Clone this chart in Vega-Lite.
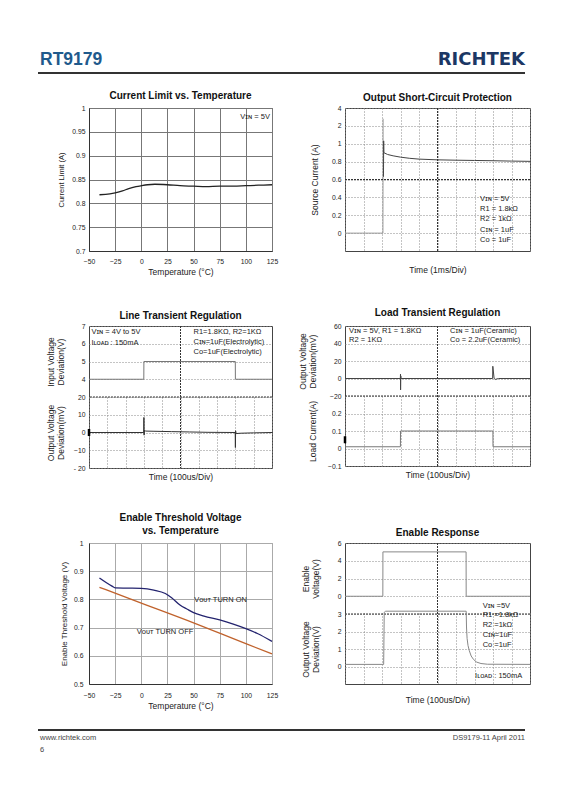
{
 "$schema": "https://vega.github.io/schema/vega-lite/v6.json",
 "background": "white",
 "padding": {"left": 37, "top": 13, "right": 5, "bottom": 5},
 "config": {
  "font": "Liberation Sans",
  "title": {"font": "Liberation Sans", "fontSize": 10, "fontWeight": "bold", "color": "#111", "frame": "group", "anchor": "middle"},
  "axis": {"labelFont": "Liberation Sans", "titleFont": "Liberation Sans", "labelFontSize": 6.8, "titleFontSize": 8.5, "titleFontWeight": "normal", "labelColor": "#222", "titleColor": "#222", "ticks": false, "labelOverlap": false, "labelFlush": false, "gridColor": "#999", "tickCount": 50},
  "text": {"font": "Liberation Sans", "fontSize": 7.5, "color": "#222"}
 },
 "resolve": {"scale": {"color": "independent"}},
 "datasets": {
  "cl": [{"temp": -40, "a": 0.818}, {"temp": -30, "a": 0.82}, {"temp": -25, "a": 0.822}, {"temp": -18, "a": 0.826}, {"temp": -12, "a": 0.831}, {"temp": -5, "a": 0.835}, {"temp": 0, "a": 0.837}, {"temp": 6, "a": 0.839}, {"temp": 13, "a": 0.84}, {"temp": 25, "a": 0.839}, {"temp": 37, "a": 0.837}, {"temp": 50, "a": 0.836}, {"temp": 62, "a": 0.835}, {"temp": 75, "a": 0.836}, {"temp": 88, "a": 0.836}, {"temp": 100, "a": 0.837}, {"temp": 112, "a": 0.838}, {"temp": 125, "a": 0.839}],
  "sc": [{"t": 0, "i": 0, "seg": "pre"}, {"t": 2.05, "i": 0, "seg": "pre"}, {"t": 2.06, "i": 2.8, "seg": "pre"}, {"t": 2.08, "i": 0.63, "seg": "post"}, {"t": 2.09, "i": 1.16, "seg": "post"}, {"t": 2.1, "i": 0.9, "seg": "post"}, {"t": 2.3, "i": 0.88, "seg": "post"}, {"t": 2.6, "i": 0.865, "seg": "post"}, {"t": 3.0, "i": 0.85, "seg": "post"}, {"t": 3.5, "i": 0.837, "seg": "post"}, {"t": 4, "i": 0.828, "seg": "post"}, {"t": 5, "i": 0.82, "seg": "post"}, {"t": 6, "i": 0.816, "seg": "post"}, {"t": 7, "i": 0.813, "seg": "post"}, {"t": 8, "i": 0.81, "seg": "post"}, {"t": 9, "i": 0.806, "seg": "post"}, {"t": 10, "i": 0.803, "seg": "post"}],
  "lti": [{"t": 0, "v": 4}, {"t": 299.5, "v": 4}, {"t": 300, "v": 5}, {"t": 799.5, "v": 5}, {"t": 800, "v": 4}, {"t": 1000, "v": 4}],
  "lto": [{"t": 0, "v": 0}, {"t": 299, "v": 0}, {"t": 300, "v": 8.5}, {"t": 301, "v": -1.5}, {"t": 303, "v": 1.2}, {"t": 310, "v": 0.8}, {"t": 350, "v": 0.7}, {"t": 450, "v": 0.5}, {"t": 550, "v": 0.3}, {"t": 650, "v": 0.1}, {"t": 799, "v": 0}, {"t": 800, "v": -8.5}, {"t": 801, "v": 1}, {"t": 804, "v": -0.6}, {"t": 830, "v": -0.4}, {"t": 900, "v": -0.2}, {"t": 1000, "v": 0}],
  "ldv": [{"t": 0, "v": 0}, {"t": 299, "v": 0}, {"t": 300, "v": 5}, {"t": 300.5, "v": -13}, {"t": 301.5, "v": 3}, {"t": 303, "v": 0}, {"t": 798, "v": 0}, {"t": 799, "v": 14}, {"t": 806, "v": 0}, {"t": 812, "v": -1}, {"t": 830, "v": 0}, {"t": 1000, "v": 0}],
  "ldi": [{"t": 0, "v": 0.01}, {"t": 299.5, "v": 0.01}, {"t": 300, "v": 0.1}, {"t": 799.5, "v": 0.1}, {"t": 800, "v": 0.01}, {"t": 1000, "v": 0.01}],
  "ere": [{"t": 0, "v": 0}, {"t": 204.5, "v": 0}, {"t": 205, "v": 5}, {"t": 654.5, "v": 5}, {"t": 655, "v": 0}, {"t": 1000, "v": 0}],
  "ero": [{"t": 0, "v": 0.12}, {"t": 209, "v": 0.12}, {"t": 212, "v": 3.1}, {"t": 220, "v": 3.16}, {"t": 655, "v": 3.16}, {"t": 657, "v": 2.2}, {"t": 660, "v": 1.6}, {"t": 665, "v": 1.2}, {"t": 672, "v": 0.9}, {"t": 682, "v": 0.6}, {"t": 695, "v": 0.4}, {"t": 712, "v": 0.25}, {"t": 735, "v": 0.17}, {"t": 770, "v": 0.13}, {"t": 1000, "v": 0.12}],
  "et": [{"temp": -40, "v": 0.876, "s": "on"}, {"temp": -28, "v": 0.847, "s": "on"}, {"temp": -25, "v": 0.841, "s": "on"}, {"temp": -14, "v": 0.84, "s": "on"}, {"temp": 0, "v": 0.839, "s": "on"}, {"temp": 12, "v": 0.833, "s": "on"}, {"temp": 23, "v": 0.821, "s": "on"}, {"temp": 29, "v": 0.806, "s": "on"}, {"temp": 37, "v": 0.78, "s": "on"}, {"temp": 44, "v": 0.765, "s": "on"}, {"temp": 50, "v": 0.753, "s": "on"}, {"temp": 60, "v": 0.741, "s": "on"}, {"temp": 75, "v": 0.727, "s": "on"}, {"temp": 88, "v": 0.712, "s": "on"}, {"temp": 100, "v": 0.696, "s": "on"}, {"temp": 111, "v": 0.679, "s": "on"}, {"temp": 125, "v": 0.651, "s": "on"},
         {"temp": -40, "v": 0.843, "s": "off"}, {"temp": 0, "v": 0.787, "s": "off"}, {"temp": 50, "v": 0.717, "s": "off"}, {"temp": 100, "v": 0.643, "s": "off"}, {"temp": 125, "v": 0.607, "s": "off"}]
 },
 "concat": [
  {
   "width": 183, "height": 20,
   "view": {"stroke": null},
   "layer": [
    {"data": {"values": [{}]},
     "mark": {"type": "rule", "color": "#333", "strokeWidth": 2},
     "encoding": {"x": {"datum": 0, "type": "quantitative", "scale": {"domain": [0, 1], "range": [-51, 256]}, "axis": null}, "x2": {"datum": 1}, "y": {"datum": 0, "type": "quantitative", "scale": {"domain": [0, 1], "range": [60, 40]}, "axis": null}}},
    {"data": {"values": [{"label": "RT9179"}]},
     "mark": {"type": "text", "align": "left", "baseline": "alphabetic", "font": "Liberation Sans", "fontSize": 17.5, "fontWeight": "bold", "color": "#1f5a8c", "dx": 2},
     "encoding": {"x": {"datum": 0, "type": "quantitative"}, "y": {"datum": 0.4, "type": "quantitative"}, "text": {"field": "label"}}}
   ]
  },
  {
   "width": 185, "height": 20,
   "view": {"stroke": null},
   "layer": [
    {"data": {"values": [{}]},
     "mark": {"type": "rule", "color": "#333", "strokeWidth": 2},
     "encoding": {"x": {"datum": 0, "type": "quantitative", "scale": {"domain": [0, 1], "range": [0, 180]}, "axis": null}, "x2": {"datum": 1}, "y": {"datum": 0, "type": "quantitative", "scale": {"domain": [0, 1], "range": [60, 40]}, "axis": null}}},
    {"data": {"values": [{"label": "RICHTEK"}]},
     "mark": {"type": "text", "align": "right", "baseline": "alphabetic", "font": "DejaVu Sans", "fontSize": 18, "fontWeight": "bold", "color": "#1c3764"},
     "encoding": {"x": {"datum": 1, "type": "quantitative"}, "y": {"datum": 0.4, "type": "quantitative"}, "text": {"field": "label"}}}
   ]
  },
  {
   "title": {"text": "Current Limit vs. Temperature", "offset": 4},
   "width": 183, "height": 143,
   "view": {"stroke": "#666"},
   "layer": [
    {"data": {"name": "cl"},
     "mark": {"type": "line", "color": "#222", "strokeWidth": 1.3, "interpolate": "monotone"},
     "encoding": {
      "x": {"field": "temp", "type": "quantitative", "scale": {"domain": [-50, 125], "nice": false}, "axis": {"values": [-50, -25, 0, 25, 50, 75, 100, 125], "format": "~g", "grid": true, "gridColor": "#777", "title": "Temperature (°C)", "titlePadding": 3, "labelPadding": 7, "domainColor": "#333"}},
      "y": {"field": "a", "type": "quantitative", "scale": {"domain": [0.7, 1], "nice": false, "zero": false}, "axis": {"values": [0.7, 0.75, 0.8, 0.85, 0.9, 0.95, 1], "format": "~g", "grid": true, "gridColor": "#777", "title": "Current Limit (A)", "titleFontSize": 7.5, "titlePadding": 6, "labelPadding": 4, "domainColor": "#333"}}
     }},
    {"data": {"values": [{"note": "Vɪɴ = 5V"}]},
     "mark": {"type": "text", "align": "right", "baseline": "middle"},
     "encoding": {"x": {"datum": 123, "type": "quantitative"}, "y": {"datum": 0.981, "type": "quantitative"}, "text": {"field": "note"}}}
   ]
  },
  {
   "title": {"text": "Output Short-Circuit Protection", "offset": 2},
   "width": 185, "height": 143,
   "view": {"stroke": "#444"},
   "layer": [
    {"data": {"name": "sc"},
     "mark": {"type": "line", "strokeWidth": 1},
     "encoding": {
      "x": {"field": "t", "type": "quantitative", "scale": {"domain": [0, 10], "nice": false}, "axis": {"values": [0, 1, 2, 3, 4, 5, 6, 7, 8, 9, 10], "labels": false, "domain": false, "grid": true, "gridDash": [1, 2], "gridColor": "#888", "title": "Time (1ms/Div)", "titlePadding": 14}},
      "y": {"field": "i", "type": "quantitative", "scale": {"domain": [-0.2, 1, 2, 4], "range": [143, 35.75, 17.875, 0], "nice": false, "zero": false}, "axis": {"values": [0, 0.2, 0.4, 0.6, 0.8, 1, 2, 4], "format": "~g", "grid": true, "gridDash": [1, 2], "gridColor": "#888", "domain": false, "title": "Source Current (A)", "titlePadding": 12, "labelPadding": 4}},
      "color": {"field": "seg", "type": "nominal", "scale": {"domain": ["pre", "post"], "range": ["#9a9a9a", "#444"]}, "legend": null}
     }},
    {"data": {"values": [{}]}, "mark": {"type": "rule", "color": "#333", "strokeDash": [2, 1]}, "encoding": {"x": {"datum": 5, "type": "quantitative"}}},
    {"data": {"values": [{}]}, "mark": {"type": "rule", "color": "#333", "strokeDash": [2, 1]}, "encoding": {"y": {"datum": 0.6, "type": "quantitative"}}},
    {"data": {"values": [{"note": "Vɪɴ = 5V\nR1 = 1.8kΩ\nR2 = 1kΩ\nCɪɴ = 1uF\nCᴏ = 1uF"}]},
     "mark": {"type": "text", "align": "left", "baseline": "top", "lineBreak": "\n", "lineHeight": 10.3},
     "encoding": {"x": {"datum": 7.3, "type": "quantitative"}, "y": {"datum": 0.43, "type": "quantitative"}, "text": {"field": "note"}}}
   ]
  },
  {
   "title": {"text": "Line Transient Regulation", "offset": 2},
   "width": 183, "height": 142,
   "view": {"stroke": "#444"},
   "resolve": {"scale": {"y": "independent"}, "axis": {"y": "independent"}},
   "layer": [
    {"layer": [
      {"data": {"name": "lti"},
       "mark": {"type": "line", "color": "#777", "strokeWidth": 1},
       "encoding": {
        "x": {"field": "t", "type": "quantitative", "scale": {"domain": [0, 1000], "nice": false}, "axis": {"values": [0, 100, 200, 300, 400, 500, 600, 700, 800, 900, 1000], "labels": false, "domain": false, "grid": true, "gridDash": [1, 2], "gridColor": "#888", "title": "Time (100us/Div)", "titlePadding": 4}},
        "y": {"field": "v", "type": "quantitative", "scale": {"domain": [3, 7], "range": [71, 0], "nice": false, "zero": false}, "axis": {"orient": "left", "values": [4, 5, 6, 7], "format": "~g", "grid": true, "gridDash": [1, 2], "gridColor": "#888", "domain": false, "title": ["Input Voltage", "Deviation(V)"], "titleLineHeight": 10, "titlePadding": 6, "labelPadding": 4, "minExtent": 18, "maxExtent": 18}}
       }},
      {"data": {"values": [{}]}, "mark": {"type": "rule", "color": "#333", "strokeDash": [2, 1]}, "encoding": {"x": {"datum": 500, "type": "quantitative"}}},
      {"data": {"values": [{}]}, "mark": {"type": "rule", "color": "#333", "strokeDash": [2, 1]}, "encoding": {"y": {"datum": 3, "type": "quantitative"}}},
      {"data": {"values": [{"note": "Vɪɴ = 4V to 5V\nIʟᴏᴀᴅ : 150mA"}]},
       "mark": {"type": "text", "align": "left", "baseline": "top", "lineBreak": "\n", "lineHeight": 11},
       "encoding": {"x": {"datum": 13, "type": "quantitative"}, "y": {"datum": 6.88, "type": "quantitative"}, "text": {"field": "note"}}},
      {"data": {"values": [{"note": "R1=1.8KΩ, R2=1KΩ\nCɪɴ=1uF(Electrolytic)\nCᴏ=1uF(Electrolytic)"}]},
       "mark": {"type": "text", "align": "left", "baseline": "top", "lineBreak": "\n", "lineHeight": 9.8},
       "encoding": {"x": {"datum": 571, "type": "quantitative"}, "y": {"datum": 6.88, "type": "quantitative"}, "text": {"field": "note"}}}
    ]},
    {"layer": [
      {"data": {"name": "lto"},
       "mark": {"type": "line", "color": "#333", "strokeWidth": 1},
       "encoding": {
        "x": {"field": "t", "type": "quantitative", "scale": {"domain": [0, 1000], "nice": false}, "axis": {"values": [0, 100, 200, 300, 400, 500, 600, 700, 800, 900, 1000], "labels": false, "domain": false, "grid": true, "gridDash": [1, 2], "gridColor": "#888", "title": "Time (100us/Div)", "titlePadding": 4}},
        "y": {"field": "v", "type": "quantitative", "scale": {"domain": [-20, 20], "range": [142, 71], "nice": false, "zero": false}, "axis": {"orient": "left", "values": [-20, -10, 0, 10, 20], "format": "~g", "labelExpr": "datum.value == -20 ? '- 20' : datum.label", "grid": true, "gridDash": [1, 2], "gridColor": "#888", "domain": false, "title": ["Output Voltage", "Deviation(mV)"], "titleLineHeight": 10, "titlePadding": 6, "labelPadding": 4, "minExtent": 18, "maxExtent": 18}}
       }},
      {"data": {"values": [{}]}, "mark": {"type": "rule", "color": "#000", "strokeWidth": 2.5}, "encoding": {"x": {"datum": 0, "type": "quantitative"}, "y": {"datum": -2, "type": "quantitative"}, "y2": {"datum": 2}}}
    ]}
   ]
  },
  {
   "title": {"text": "Load Transient Regulation", "offset": 5},
   "width": 185, "height": 140,
   "view": {"stroke": "#444"},
   "resolve": {"scale": {"y": "independent"}, "axis": {"y": "independent"}},
   "layer": [
    {"layer": [
      {"data": {"name": "ldv"},
       "mark": {"type": "line", "color": "#444", "strokeWidth": 1},
       "encoding": {
        "x": {"field": "t", "type": "quantitative", "scale": {"domain": [0, 1000], "nice": false}, "axis": {"values": [0, 100, 200, 300, 400, 500, 600, 700, 800, 900, 1000], "labels": false, "domain": false, "grid": true, "gridDash": [1, 2], "gridColor": "#888", "title": "Time (100us/Div)", "titlePadding": 4}},
        "y": {"field": "v", "type": "quantitative", "scale": {"domain": [-20, 60], "range": [70, 0], "nice": false, "zero": false}, "axis": {"orient": "left", "values": [-20, 0, 20, 40, 60], "format": "~g", "grid": true, "gridDash": [1, 2], "gridColor": "#888", "domain": false, "title": ["Output Voltage", "Deviation(mV)"], "titleLineHeight": 10, "titlePadding": 12, "labelPadding": 4, "minExtent": 16, "maxExtent": 16}}
       }},
      {"data": {"values": [{}]}, "mark": {"type": "rule", "color": "#333", "strokeDash": [2, 1]}, "encoding": {"x": {"datum": 500, "type": "quantitative"}}},
      {"data": {"values": [{}]}, "mark": {"type": "rule", "color": "#333", "strokeDash": [2, 1]}, "encoding": {"y": {"datum": -20, "type": "quantitative"}}},
      {"data": {"values": [{"note": "Vɪɴ = 5V, R1 = 1.8KΩ\nR2 = 1KΩ"}]},
       "mark": {"type": "text", "align": "left", "baseline": "top", "lineBreak": "\n", "lineHeight": 9.5},
       "encoding": {"x": {"datum": 22, "type": "quantitative"}, "y": {"datum": 59, "type": "quantitative"}, "text": {"field": "note"}}},
      {"data": {"values": [{"note": "Cɪɴ = 1uF(Ceramic)\nCᴏ = 2.2uF(Ceramic)"}]},
       "mark": {"type": "text", "align": "left", "baseline": "top", "lineBreak": "\n", "lineHeight": 9.5},
       "encoding": {"x": {"datum": 568, "type": "quantitative"}, "y": {"datum": 59, "type": "quantitative"}, "text": {"field": "note"}}}
    ]},
    {"layer": [
      {"data": {"name": "ldi"},
       "mark": {"type": "line", "color": "#777", "strokeWidth": 1},
       "encoding": {
        "x": {"field": "t", "type": "quantitative", "scale": {"domain": [0, 1000], "nice": false}, "axis": {"values": [0, 100, 200, 300, 400, 500, 600, 700, 800, 900, 1000], "labels": false, "domain": false, "grid": true, "gridDash": [1, 2], "gridColor": "#888", "title": "Time (100us/Div)", "titlePadding": 4}},
        "y": {"field": "v", "type": "quantitative", "scale": {"domain": [-0.1, 0.3], "range": [140, 70], "nice": false, "zero": false}, "axis": {"orient": "left", "values": [-0.1, 0, 0.1, 0.2], "format": "~g", "grid": true, "gridDash": [1, 2], "gridColor": "#888", "domain": false, "title": "Load Current(A)", "titlePadding": 12, "labelPadding": 4, "minExtent": 16, "maxExtent": 16}}
       }},
      {"data": {"values": [{}]}, "mark": {"type": "rule", "color": "#000", "strokeWidth": 2.5}, "encoding": {"x": {"datum": 0, "type": "quantitative"}, "y": {"datum": 0.03, "type": "quantitative"}, "y2": {"datum": 0.07}}}
    ]}
   ]
  },
  {
   "title": {"text": ["Enable Threshold Voltage", "vs. Temperature"], "offset": 4, "lineHeight": 13},
   "width": 183, "height": 141,
   "view": {"stroke": "#999"},
   "layer": [
    {"data": {"name": "et"},
     "mark": {"type": "line", "strokeWidth": 1.3, "interpolate": "monotone"},
     "encoding": {
      "x": {"field": "temp", "type": "quantitative", "scale": {"domain": [-50, 125], "nice": false}, "axis": {"values": [-50, -25, 0, 25, 50, 75, 100, 125], "format": "~g", "grid": true, "gridColor": "#aaa", "title": "Temperature (°C)", "titlePadding": 3, "labelPadding": 8, "domainColor": "#333"}},
      "y": {"field": "v", "type": "quantitative", "scale": {"domain": [0.5, 1], "nice": false, "zero": false}, "axis": {"values": [0.5, 0.6, 0.7, 0.8, 0.9, 1], "format": "~g", "grid": true, "gridColor": "#aaa", "title": "Enable Threshold Voltage (V)", "titleFontSize": 8, "titlePadding": 5, "labelPadding": 6, "domainColor": "#333"}},
      "color": {"field": "s", "type": "nominal", "scale": {"domain": ["on", "off"], "range": ["#23236e", "#c0622c"]}, "legend": null}
     }},
    {"data": {"values": [{"note": "Vᴏᴜᴛ TURN ON"}]},
     "mark": {"type": "text", "align": "left", "baseline": "middle"},
     "encoding": {"x": {"datum": 50.6, "type": "quantitative"}, "y": {"datum": 0.797, "type": "quantitative"}, "text": {"field": "note"}}},
    {"data": {"values": [{"note": "Vᴏᴜᴛ TURN OFF"}]},
     "mark": {"type": "text", "align": "left", "baseline": "middle"},
     "encoding": {"x": {"datum": -4.3, "type": "quantitative"}, "y": {"datum": 0.685, "type": "quantitative"}, "text": {"field": "note"}}}
   ]
  },
  {
   "title": {"text": "Enable Response", "offset": 2},
   "width": 185, "height": 141,
   "view": {"stroke": "#444"},
   "resolve": {"scale": {"y": "independent"}, "axis": {"y": "independent"}},
   "layer": [
    {"layer": [
      {"data": {"name": "ere"},
       "mark": {"type": "line", "color": "#888", "strokeWidth": 1},
       "encoding": {
        "x": {"field": "t", "type": "quantitative", "scale": {"domain": [0, 1000], "nice": false}, "axis": {"values": [0, 100, 200, 300, 400, 500, 600, 700, 800, 900, 1000], "labels": false, "domain": false, "grid": true, "gridDash": [1, 2], "gridColor": "#888", "title": "Time (100us/Div)", "titlePadding": 11}},
        "y": {"field": "v", "type": "quantitative", "scale": {"domain": [-2, 6], "range": [71, 0], "nice": false, "zero": false}, "axis": {"orient": "left", "values": [0, 2, 4, 6], "format": "~g", "grid": true, "gridDash": [1, 2], "gridColor": "#888", "domain": false, "title": ["Enable", "Voltage(V)"], "titleLineHeight": 10, "titlePadding": 14, "labelPadding": 4, "minExtent": 11, "maxExtent": 11}}
       }},
      {"data": {"values": [{}]}, "mark": {"type": "rule", "color": "#333", "strokeDash": [2, 1]}, "encoding": {"x": {"datum": 500, "type": "quantitative"}}},
      {"data": {"values": [{}]}, "mark": {"type": "rule", "color": "#333", "strokeDash": [2, 1]}, "encoding": {"y": {"datum": -2, "type": "quantitative"}}}
    ]},
    {"layer": [
      {"data": {"name": "ero"},
       "mark": {"type": "line", "color": "#888", "strokeWidth": 1},
       "encoding": {
        "x": {"field": "t", "type": "quantitative", "scale": {"domain": [0, 1000], "nice": false}, "axis": {"values": [0, 100, 200, 300, 400, 500, 600, 700, 800, 900, 1000], "labels": false, "domain": false, "grid": true, "gridDash": [1, 2], "gridColor": "#888", "title": "Time (100us/Div)", "titlePadding": 11}},
        "y": {"field": "v", "type": "quantitative", "scale": {"domain": [-1, 3], "range": [141, 71], "nice": false, "zero": false}, "axis": {"orient": "left", "values": [0, 1, 2, 3], "format": "~g", "grid": true, "gridDash": [1, 2], "gridColor": "#888", "domain": false, "title": ["Output Voltage", "Deviation(V)"], "titleLineHeight": 10, "titlePadding": 14, "labelPadding": 4, "minExtent": 11, "maxExtent": 11}}
       }},
      {"data": {"values": [{"note": "Vɪɴ =5V\nR1 =1.8kΩ\nR2 =1kΩ\nCɪɴ=1uF\nCᴏ =1uF"}]},
       "mark": {"type": "text", "align": "left", "baseline": "top", "lineBreak": "\n", "lineHeight": 9.8},
       "encoding": {"x": {"datum": 744, "type": "quantitative"}, "y": {"datum": 3.71, "type": "quantitative"}, "text": {"field": "note"}}},
      {"data": {"values": [{"note": "Iʟᴏᴀᴅ : 150mA"}]},
       "mark": {"type": "text", "align": "left", "baseline": "middle"},
       "encoding": {"x": {"datum": 703, "type": "quantitative"}, "y": {"datum": -0.54, "type": "quantitative"}, "text": {"field": "note"}}}
    ]}
   ]
  },
  {
   "width": 183, "height": 20,
   "view": {"stroke": null},
   "layer": [
    {"data": {"values": [{}]},
     "mark": {"type": "rule", "color": "#333", "strokeWidth": 2},
     "encoding": {"x": {"datum": 0, "type": "quantitative", "scale": {"domain": [0, 1], "range": [-51, 256]}, "axis": null}, "x2": {"datum": 1}, "y": {"datum": 1, "type": "quantitative", "scale": {"domain": [0, 1], "range": [-9, -29]}, "axis": null}}},
    {"data": {"values": [{"label": "www.richtek.com"}]},
     "mark": {"type": "text", "align": "left", "baseline": "middle", "fontSize": 7.5, "color": "#444", "dx": 2},
     "encoding": {"x": {"datum": 0, "type": "quantitative"}, "y": {"datum": 0.6, "type": "quantitative"}, "text": {"field": "label"}}},
    {"data": {"values": [{"label": "6"}]},
     "mark": {"type": "text", "align": "left", "baseline": "middle", "fontSize": 7.5, "color": "#444", "dx": 2},
     "encoding": {"x": {"datum": 0, "type": "quantitative"}, "y": {"datum": 0, "type": "quantitative"}, "text": {"field": "label"}}}
   ]
  },
  {
   "width": 185, "height": 20,
   "view": {"stroke": null},
   "layer": [
    {"data": {"values": [{}]},
     "mark": {"type": "rule", "color": "#333", "strokeWidth": 2},
     "encoding": {"x": {"datum": 0, "type": "quantitative", "scale": {"domain": [0, 1], "range": [0, 180]}, "axis": null}, "x2": {"datum": 1}, "y": {"datum": 1, "type": "quantitative", "scale": {"domain": [0, 1], "range": [-9, -29]}, "axis": null}}},
    {"data": {"values": [{"label": "DS9179-11   April  2011"}]},
     "mark": {"type": "text", "align": "right", "baseline": "middle", "fontSize": 7.5, "color": "#444"},
     "encoding": {"x": {"datum": 1, "type": "quantitative"}, "y": {"datum": 0.6, "type": "quantitative"}, "text": {"field": "label"}}}
   ]
  }
 ],
 "columns": 2,
 "spacing": {"row": 75, "column": 73},
 "bounds": "flush"
}
